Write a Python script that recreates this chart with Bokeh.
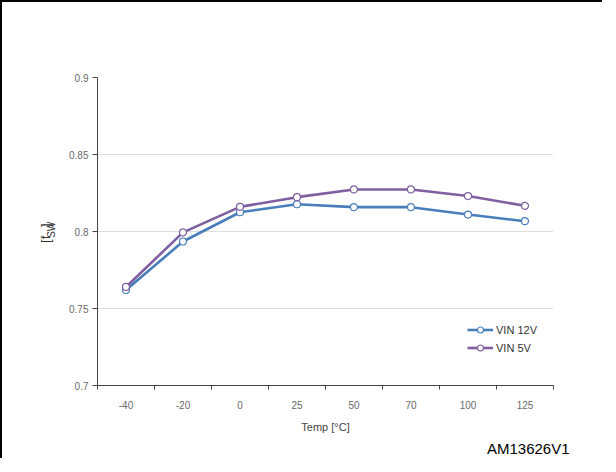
from bokeh.plotting import figure
from bokeh.layouts import row
from bokeh.models import FixedTicker, Legend, LegendItem, Title
from bokeh.core.properties import value
from bokeh.embed import file_html
from bokeh.resources import INLINE
from math import pi

temps = ["-40", "-20", "0", "25", "50", "70", "100", "125"]
vin12 = [0.762, 0.7935, 0.8125, 0.8177, 0.8158, 0.8158, 0.8110, 0.8067]
vin5 = [0.764, 0.7994, 0.8160, 0.8223, 0.8273, 0.8273, 0.8230, 0.8167]
y_ticks = [0.7, 0.75, 0.8, 0.85, 0.9]
series_names = ["VIN 12V", "VIN 5V"]
colors = ["#4A7EBB", "#7F5FA0"]
y_label_parts = ["[f", "SW", "]"]

lab_font = "Liberation Sans"
xs = [i + 0.5 for i in range(len(temps))]

# --- narrow panel holding the rotated y-axis title "[f_SW]" ---
LW, H = 57, 456
pl = figure(width=LW, height=H, output_backend="svg", toolbar_location=None,
            x_range=(0, LW), y_range=(0, H), x_axis_type=None, y_axis_type=None,
            min_border=0)
pl.outline_line_color = None
pl.grid.visible = False
pl.background_fill_color = "white"
pl.border_fill_color = "white"
pl.text(x=[43], y=[211], text=[y_label_parts[0]], angle=pi / 2, text_align="left",
        text_baseline="middle", text_font=value(lab_font), text_font_size="13px",
        text_color="#333333")
pl.text(x=[48.5], y=[218.6], text=[y_label_parts[1]], angle=pi / 2, text_align="left",
        text_baseline="middle", text_font=value(lab_font), text_font_size="10px",
        text_color="#333333")
pl.text(x=[43], y=[234.8], text=[y_label_parts[2]], angle=pi / 2, text_align="left",
        text_baseline="middle", text_font=value(lab_font), text_font_size="13px",
        text_color="#333333")

# --- main chart ---
p = figure(width=600 - LW, height=H, output_backend="svg", toolbar_location=None,
           x_range=(0, len(temps)), y_range=(0.7, 0.9),
           min_border_left=38, min_border_right=49, min_border_top=75, min_border_bottom=10)
p.outline_line_color = None
p.background_fill_color = "white"
p.border_fill_color = "white"

# x axis: labels at centers, ticks at boundaries
p.xaxis.ticker = FixedTicker(ticks=xs, minor_ticks=list(range(len(temps) + 1)))
p.xaxis.major_label_overrides = {x: t for x, t in zip(xs, temps)}
p.xaxis.major_tick_line_color = None
p.xaxis.major_tick_out = 0
p.xaxis.major_tick_in = 0
p.xaxis.minor_tick_line_color = "#444444"
p.xaxis.minor_tick_out = 4
p.xaxis.minor_tick_in = 0
p.xaxis.major_label_standoff = 11
p.xaxis.axis_label = "Temp [°C]"
p.xaxis.axis_label_standoff = 9
p.xaxis.axis_label_text_font = lab_font
p.xaxis.axis_label_text_font_style = "normal"
p.xaxis.axis_label_text_font_size = "11px"
p.xaxis.axis_label_text_color = "#444444"

p.yaxis.ticker = FixedTicker(ticks=y_ticks)
p.yaxis.major_label_overrides = {0.7: "0.7", 0.75: "0.75", 0.8: "0.8", 0.85: "0.85", 0.9: "0.9"}
p.yaxis.minor_tick_line_color = None
p.yaxis.major_tick_out = 5
p.yaxis.major_tick_in = 0
p.yaxis.major_label_standoff = 4
p.yaxis.major_tick_line_color = "#444444"

for ax in (p.xaxis, p.yaxis):
    ax.axis_line_color = "#444444"
    ax.axis_line_width = 1
    ax.major_label_text_font = lab_font
    ax.major_label_text_font_size = "10px"
    ax.major_label_text_color = "#6a6a6a"

p.xgrid.grid_line_color = None
p.ygrid.grid_line_color = "#bdbdbd"
p.ygrid.grid_line_dash = "1 1"
p.ygrid.grid_line_width = 1

items = []
for vals, name, col in zip([vin12, vin5], series_names, colors):
    r1 = p.line(xs, vals, line_color=col, line_width=2.6)
    r2 = p.scatter(xs, vals, size=7, fill_color="white", line_color=col, line_width=1.2)
    items.append(LegendItem(label=name, renderers=[r1, r2]))

legend = Legend(items=items, location=(370, 30), padding=0, margin=0,
                glyph_width=26, glyph_height=15, label_height=15, spacing=3,
                label_standoff=3, label_text_font=lab_font,
                label_text_font_size="11px", label_text_color="#333333",
                border_line_color=None, background_fill_alpha=0)
p.add_layout(legend, "center")

note = Title(text="AM13626V1", align="right", offset=-16, standoff=4,
             text_font=lab_font, text_font_size="15px", text_font_style="normal",
             text_color="#000000")
p.add_layout(note, "below")

layout = row(pl, p, spacing=0)
layout.styles = {"border-top": "2px solid black", "border-left": "2px solid black"}

open("out.html", "w").write(file_html(layout, INLINE))
